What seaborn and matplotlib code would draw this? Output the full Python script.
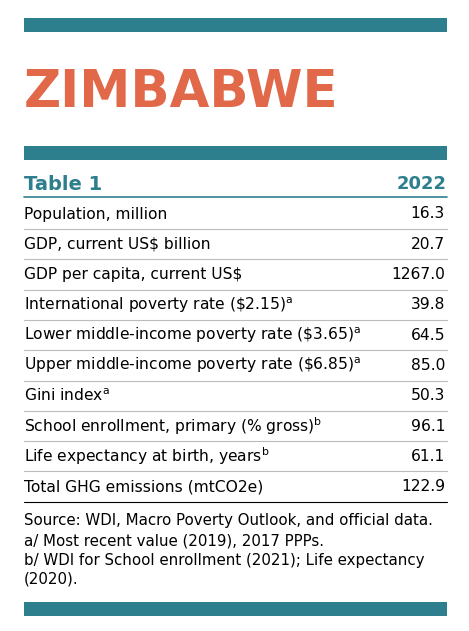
import matplotlib
matplotlib.use("Agg")
import matplotlib.pyplot as plt
import seaborn as sns

sns.set_theme(style="white")
plt.rcParams['font.family'] = ['DejaVu Sans']

country = "ZIMBABWE"
table_label = "Table 1"
year = "2022"
labels = ["Population, million", "GDP, current US\\$ billion", "GDP per capita, current US\\$",
          "International poverty rate (\\$2.15)$^{\\mathrm{a}}$",
          "Lower middle-income poverty rate (\\$3.65)$^{\\mathrm{a}}$",
          "Upper middle-income poverty rate (\\$6.85)$^{\\mathrm{a}}$",
          "Gini index$^{\\mathrm{a}}$", "School enrollment, primary (% gross)$^{\\mathrm{b}}$",
          "Life expectancy at birth, years$^{\\mathrm{b}}$", "Total GHG emissions (mtCO2e)"]
values = [16.3, 20.7, 1267.0, 39.8, 64.5, 85.0, 50.3, 96.1, 61.1, 122.9]
notes = ["Source: WDI, Macro Poverty Outlook, and official data.",
         "a/ Most recent value (2019), 2017 PPPs.",
         "b/ WDI for School enrollment (2021); Life expectancy",
         "(2020)."]

teal = "#2E7F8E"
orange = "#E2684A"
fig = plt.figure(figsize=(4.69, 6.31), dpi=100)
ax = fig.add_axes([0, 0, 1, 1])
ax.set_xlim(0, 469); ax.set_ylim(631, 0); ax.axis("off")
L, R = 24, 447
for y0 in (18, 146, 602):
    ax.fill_between([L, R], y0, y0 + 14, color=teal, lw=0)
ax.text(L, 93, country, color=orange, fontsize=37, fontweight="heavy", va="center", ha="left")
ax.text(L, 184, table_label, color=teal, fontsize=14, fontweight="bold", va="center")
ax.text(R, 184, year, color=teal, fontsize=13, fontweight="bold", va="center", ha="right")
ax.plot([L, R], [197, 197], color=teal, lw=1.2)
ys = [214 + 30.3 * i for i in range(len(labels))]
for i, (lab, v, y) in enumerate(zip(labels, values, ys)):
    ax.text(L, y, lab, fontsize=11.2, va="center", color="black")
    ax.text(R - 2, y, f"{v:.1f}", fontsize=11.2, va="center", ha="right", color="black")
    ax.plot([L, R], [y + 15, y + 15], color="#BBBBBB" if i < len(labels) - 1 else "black", lw=0.8)
for j, n in enumerate(notes):
    ax.text(L, 521 + 19.5 * j, n, fontsize=10.8, va="center", color="black")
fig.savefig("out.png", dpi=100)
